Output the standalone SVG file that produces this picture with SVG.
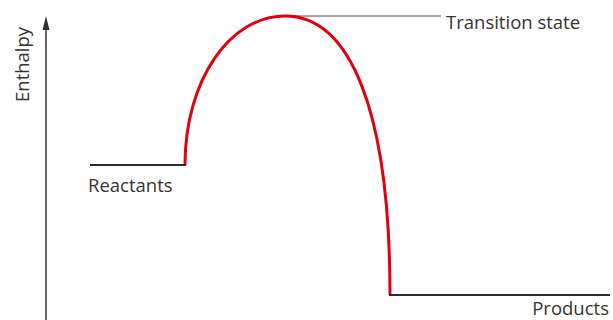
<svg xmlns="http://www.w3.org/2000/svg" width="613" height="320" viewBox="0 0 613 320">
<style>
text{font-family:"Open Sans","Noto Sans",sans-serif;font-size:18.5px;fill:#333}
.lvl{stroke:#2b2b2b;stroke-width:2;fill:none}
</style>
<rect width="613" height="320" fill="#fff"/>
<g id="axis">
<line x1="46" y1="26" x2="46" y2="320" stroke="#333" stroke-width="1.5"/>
<polygon points="46,16 42.5,30 49.5,30" fill="#333"/>
<text transform="translate(29,102) rotate(-90)">Enthalpy</text>
</g>
<g id="connectors">
<line x1="285" y1="16" x2="441" y2="16" stroke="#888" stroke-width="1.5"/>
<path d="M185,165 C185,80 230,16 285,16 C350,16 390,110 390,295" stroke="#e0000e" stroke-width="3" fill="none"/>
</g>
<g id="reactants">
<line class="lvl" x1="90" y1="165" x2="186" y2="165"/>
<text x="88" y="192">Reactants</text>
</g>
<g id="products">
<line class="lvl" x1="389" y1="295" x2="610" y2="295"/>
<text x="609" y="315" text-anchor="end">Products</text>
</g>
<g id="transition">
<text x="446" y="29">Transition state</text>
</g>
</svg>
